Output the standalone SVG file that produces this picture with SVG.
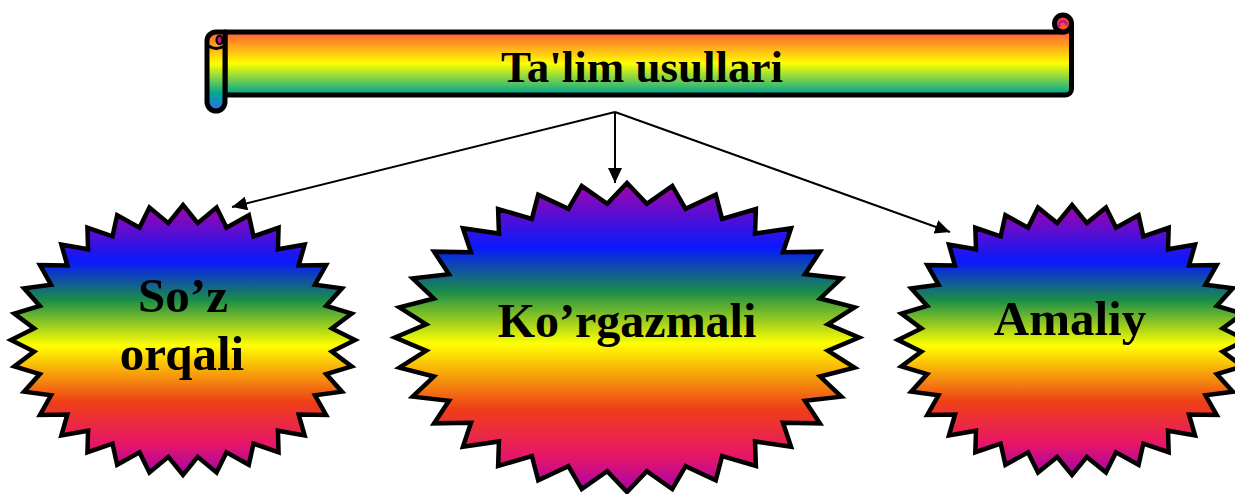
<svg xmlns="http://www.w3.org/2000/svg" width="1235" height="494" viewBox="0 0 1235 494">
<defs>
<linearGradient id="rainbow" x1="0" y1="0" x2="0" y2="1">
<stop offset="0" stop-color="#A603AB"/>
<stop offset="0.21" stop-color="#0819FB"/>
<stop offset="0.352" stop-color="#1A8D48"/>
<stop offset="0.52" stop-color="#FFFF00"/>
<stop offset="0.73" stop-color="#EE3F17"/>
<stop offset="0.88" stop-color="#E81766"/>
<stop offset="1" stop-color="#A603AB"/>
</linearGradient>
<linearGradient id="scrollGrad" gradientUnits="userSpaceOnUse" x1="0" y1="14" x2="0" y2="113">
<stop offset="0" stop-color="#FF3333"/>
<stop offset="0.2" stop-color="#FF6633"/>
<stop offset="0.5" stop-color="#FFFF00"/>
<stop offset="0.8" stop-color="#01A78F"/>
<stop offset="1" stop-color="#3366FF"/>
</linearGradient>
<marker id="arrow" viewBox="0 0 15 14" refX="15" refY="7" markerWidth="15" markerHeight="14" markerUnits="userSpaceOnUse" orient="auto">
<path d="M0,0 L15,7 L0,14 Z" fill="#000"/>
</marker>
<path id="star" vector-effect="non-scaling-stroke" d="M0,-100 L8.53,-86.58 L19.51,-98.08 L25.25,-83.25 L38.27,-92.39 L41.01,-76.73 L55.56,-83.15 L55.19,-67.25 L70.71,-70.71 L67.25,-55.19 L83.15,-55.56 L76.73,-41.01 L92.39,-38.27 L83.25,-25.25 L98.08,-19.51 L86.58,-8.53 L100,0 L86.58,8.53 L98.08,19.51 L83.25,25.25 L92.39,38.27 L76.73,41.01 L83.15,55.56 L67.25,55.19 L70.71,70.71 L55.19,67.25 L55.56,83.15 L41.01,76.73 L38.27,92.39 L25.25,83.25 L19.51,98.08 L8.53,86.58 L0,100 L-8.53,86.58 L-19.51,98.08 L-25.25,83.25 L-38.27,92.39 L-41.01,76.73 L-55.56,83.15 L-55.19,67.25 L-70.71,70.71 L-67.25,55.19 L-83.15,55.56 L-76.73,41.01 L-92.39,38.27 L-83.25,25.25 L-98.08,19.51 L-86.58,8.53 L-100,0 L-86.58,-8.53 L-98.08,-19.51 L-83.25,-25.25 L-92.39,-38.27 L-76.73,-41.01 L-83.15,-55.56 L-67.25,-55.19 L-70.71,-70.71 L-55.19,-67.25 L-55.56,-83.15 L-41.01,-76.73 L-38.27,-92.39 L-25.25,-83.25 L-19.51,-98.08 L-8.53,-86.58 Z"/>
</defs>
<style>
.star{fill:url(#rainbow);stroke:#000;stroke-width:4.5;stroke-linejoin:miter;stroke-miterlimit:10}
.scroll{fill:url(#scrollGrad);stroke:#000;stroke-width:5;stroke-linejoin:round}
.label{font-family:"Liberation Serif","Times New Roman",serif;font-weight:bold;fill:#000;text-anchor:middle}
.conn{stroke:#000;stroke-width:2;fill:none;marker-end:url(#arrow)}
</style>

<g id="root">
<path class="scroll" d="M225,32 H1063 A8.5,8.5 0 0 0 1071.5,23.5 V89 A6,6 0 0 1 1065.5,95 H225 Z"/>
<circle class="scroll" cx="1063" cy="23.5" r="8.5"/>
<path d="M1059.5,27 A3.8,3.8 0 1 1 1066.5,25.5" fill="none" stroke="#C0188F" stroke-width="2.8"/>
<path class="scroll" d="M207,41 A9,9 0 0 1 216,32 H225 V102 A9,9 0 0 1 207,102 Z"/>
<path d="M209,46 Q216,51 224,46" fill="none" stroke="#000" stroke-width="3"/>
<ellipse cx="219.5" cy="40" rx="3" ry="4.2" fill="#C0188F" stroke="#000" stroke-width="2.2"/>
<text class="label" x="642" y="82" font-size="45">Ta'lim usullari</text>
</g>

<g id="connectors">
<line class="conn" x1="615" y1="112" x2="232" y2="207"/>
<line class="conn" x1="615" y1="112" x2="615" y2="183"/>
<line class="conn" x1="615" y1="112" x2="950" y2="232"/>
</g>

<g id="node-soz">
<use href="#star" class="star" transform="translate(183,340) scale(1.72,1.35)"/>
<text class="label" font-size="49"><tspan x="183" y="312">So’z</tspan><tspan x="182" y="370">orqali</tspan></text>
</g>

<g id="node-korgazmali">
<use href="#star" class="star" transform="translate(627,337.5) scale(2.32,1.545)"/>
<text class="label" x="627" y="337" font-size="48">Ko’rgazmali</text>
</g>

<g id="node-amaliy">
<use href="#star" class="star" transform="translate(1072,340) scale(1.74,1.35)"/>
<text class="label" x="1070" y="335" font-size="49">Amaliy</text>
</g>
</svg>
